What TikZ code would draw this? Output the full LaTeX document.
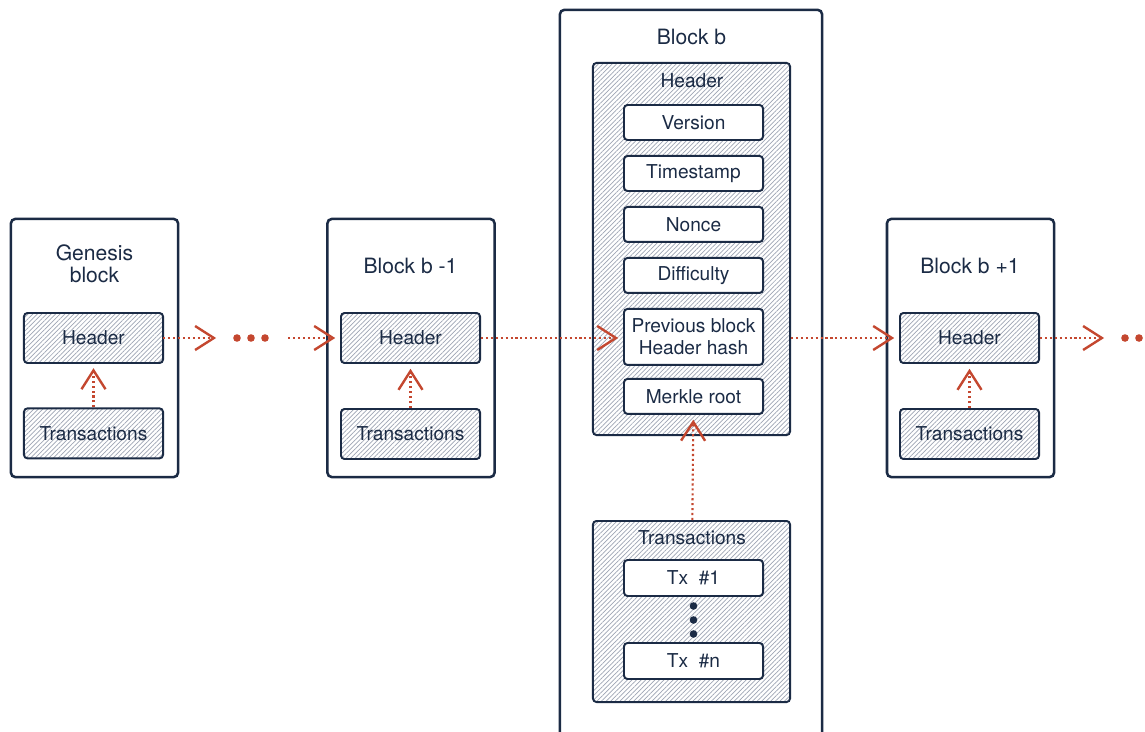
\documentclass[tikz,border=0pt]{standalone}
\usepackage{fontspec}
\setmainfont{TeX Gyre Heros}
\usetikzlibrary{positioning, arrows.meta, patterns.meta}

\definecolor{navy}{HTML}{1B2B45}
\definecolor{rust}{HTML}{C4472F}
\definecolor{hatch}{HTML}{9EA5B4}

\tikzset{
    block/.style={draw=navy, line width=1.8pt, rounded corners=3pt, fill=white,
        minimum width=4.175cm, minimum height=6.45cm},
    hatched/.style={draw=navy, line width=1.4pt, rounded corners=2.5pt,
        pattern={Lines[angle=45, distance=2.3pt, line width=0.5pt]}, pattern color=hatch},
    part/.style={hatched, minimum width=3.475cm, minimum height=1.25cm},
    field/.style={draw=navy, line width=1.4pt, rounded corners=2.5pt, fill=white,
        minimum width=3.475cm, minimum height=0.875cm},
    title/.style={font=\fontsize{15}{15.6}\selectfont, align=center},
    link/.style={rust, line width=1.5pt, dash pattern=on 1.5pt off 2pt, shorten >=0.12cm,
        -{Straight Barb[length=0.47cm, width=0.6cm, line width=1.7pt]}},
    chaindot/.style={circle, fill=#1, inner sep=0pt, minimum size=0.19cm}
}

\begin{document}
\begin{tikzpicture}[x=0.025cm, y=-0.025cm, text=navy,
    font=\fontsize{13.6}{15.6}\selectfont]
    \useasboundingbox (0,0) rectangle (1145,731);

    % genesis block
    \node[block] (gen) at (94.5,348) {};
    \node[title] (gent) at (94.5,264) {Genesis\\block};
    \node[part] (gh) at (93.5,338) {Header};
    \node[part, below=1.1cm of gh] (gt) {Transactions};

    % block b-1
    \node[block] (prv) at (411,348) {};
    \node[title] (prvt) at (410.5,266) {Block b -1};
    \node[part] (ph) at (410.5,338) {Header};
    \node[part, below=1.1cm of ph] (pt) {Transactions};

    % block b
    \node[block, minimum width=6.55cm, minimum height=18.75cm] (cur) at (691,385) {};
    \node[title] (curt) at (691.5,37) {Block b};
    \node[hatched, minimum width=4.925cm, minimum height=9.3cm] (hdr) at (691.5,249) {};
    \node (hdrt) at (692,81) {Header};
    \node[field] (ver) at (693.5,122.5) {Version};
    \node[field, below=0.35cm of ver] (ts) {Timestamp};
    \node[field, below=0.35cm of ts] (nonce) {Nonce};
    \node[field, below=0.35cm of nonce] (diff) {Difficulty};
    \node[field, below=0.35cm of diff, minimum height=1.4cm, align=center] (prev)
        {Previous block\\Header hash};
    \node[field, below=0.3cm of prev] (merkle) {Merkle root};

    \node[hatched, minimum width=4.925cm, minimum height=4.525cm] (txs) at (691.5,611.5) {};
    \node (txst) at (692,538) {Transactions};
    \node[field, minimum height=0.9cm] (tx1) at (693.5,578) {Tx~~\#1};
    \node[field, minimum height=0.9cm] (txn) at (693.5,661) {Tx~~\#n};
    \foreach \y [count=\i] in {606,620,634}
        \node[chaindot=navy] (v\i) at (693.5,\y) {};

    % block b+1
    \node[block] (nxt) at (970.5,348) {};
    \node[title] (nxtt) at (970,266) {Block b +1};
    \node[part] (nh) at (969.5,338) {Header};
    \node[part, below=1.1cm of nh] (nt) {Transactions};

    % ellipses
    \foreach \x [count=\i] in {237,251,265}
        \node[chaindot=rust] (e\i) at (\x,338) {};
    \foreach \x [count=\i] in {1125,1139}
        \node[chaindot=rust] (f\i) at (\x,338) {};

    % links
    \draw[link] (gt) -- (gh);
    \draw[link] (pt) -- (ph);
    \draw[link] (nt) -- (nh);
    \draw[link] (txs) -- (merkle);
    \draw[link, shorten >=0.42cm] (gh) -- (e1);
    \draw[link, shorten <=0.48cm] (e3) -- (ph);
    \draw[link] (ph) -- (ph -| prev.west);
    \draw[link] (hdr.east |- nh) -- (nh);
    \draw[link, shorten >=0.42cm] (nh) -- (f1);
\end{tikzpicture}
\end{document}
